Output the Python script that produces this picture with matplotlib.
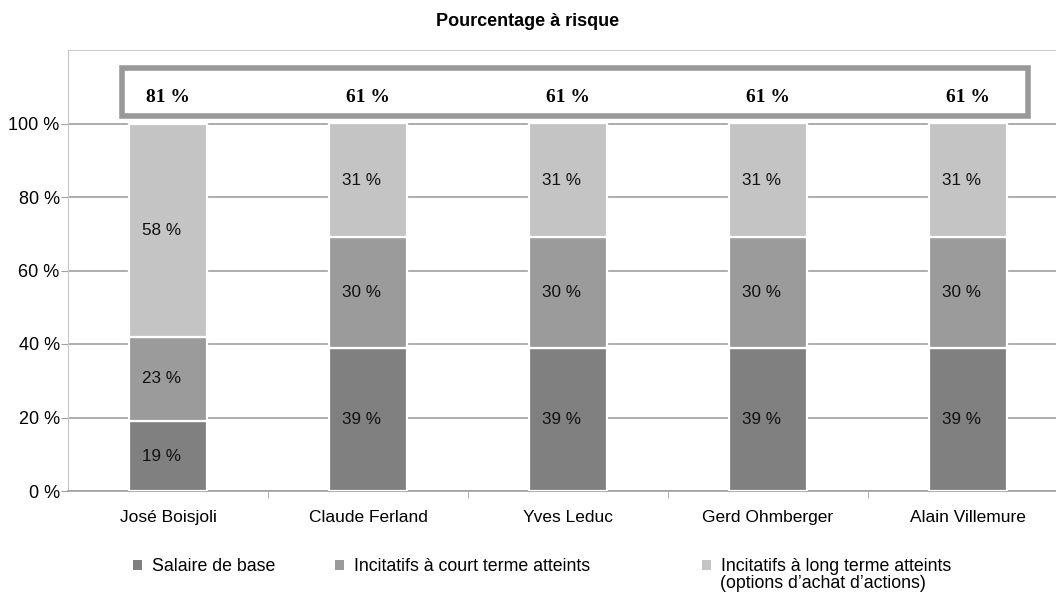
import matplotlib.pyplot as plt
from matplotlib.patches import Rectangle

plt.rcParams['font.family'] = ['Liberation Sans', 'DejaVu Sans']

names = ["José Boisjoli", "Claude Ferland", "Yves Leduc", "Gerd Ohmberger", "Alain Villemure"]
salaire = [19, 39, 39, 39, 39]
court = [23, 30, 30, 30, 30]
long_terme = [58, 31, 31, 31, 31]
risque = [81, 61, 61, 61, 61]
series_labels = ["Salaire de base", "Incitatifs à court terme atteints",
                 "Incitatifs à long terme atteints"]
extra_line = "(options d\u2019achat d\u2019actions)"
colors = ["#808080", "#9b9b9b", "#c4c4c4"]

fig = plt.figure(figsize=(10.56, 5.95), dpi=100)
ax = fig.add_axes([68 / 1056, 1 - 491 / 595, (1056 - 68) / 1056, (491 - 50) / 595])

x = list(range(len(names)))
w = 0.39
bottoms = [0] * len(names)
containers = []
for vals, col, lab in zip([salaire, court, long_terme], colors, series_labels):
    bc = ax.bar(x, vals, w, bottom=bottoms, color=col, edgecolor="white", linewidth=1.6,
                label=lab, zorder=3)
    containers.append(bc)
    for xi, v, b in zip(x, vals, bottoms):
        ax.text(xi - 0.03, b + v / 2, f"{v} %", ha="center", va="center", fontsize=12.3,
                color="#111111", zorder=4)
    bottoms = [b + v for b, v in zip(bottoms, vals)]

ax.set_xlim(-0.5, 4.44)
ax.set_ylim(0, 120)
ax.set_yticks([0, 20, 40, 60, 80, 100])
ax.set_yticklabels([f"{t} %" for t in [0, 20, 40, 60, 80, 100]], fontsize=13)
ax.set_xticks(x)
ax.set_xticklabels(names, fontsize=12.5)
ax.set_xticks([0.5, 1.5, 2.5, 3.5], minor=True)
ax.tick_params(axis="x", which="major", length=0, pad=14)
ax.tick_params(axis="x", which="minor", length=5, color="#a0a0a0", direction="out")
ax.tick_params(axis="y", length=5, color="#a0a0a0", pad=1)
ax.yaxis.grid(True, color="#a0a0a0", linewidth=1.2, zorder=0)
ax.set_axisbelow(True)
ax.spines["right"].set_visible(False)
ax.spines["top"].set_color("#cccccc")
ax.spines["left"].set_color("#c8c8c8")
ax.spines["bottom"].set_color("#a0a0a0")
ax.spines["bottom"].set_linewidth(1.2)

# boxed total at risk
ax.add_patch(Rectangle((-0.23, 102.0), 4.53, 13.2, facecolor="white", edgecolor="#999999",
                       linewidth=4, zorder=2, clip_on=False))
for xi, r in zip(x, risque):
    ax.text(xi, 107.2, f"{r} %", ha="center", va="center", fontsize=14, fontweight="bold",
            family="Liberation Serif", zorder=4)

fig.text(528 / 1056, 1 - 22 / 595, "Pourcentage à risque", ha="center", va="center",
         fontsize=13, fontweight="bold")

# legend, three separate pieces
legend_pos = [(133, 558), (335, 558), (702, 558)]
for bc, (px, py) in zip(containers, legend_pos):
    lg = fig.legend([bc], [bc.get_label()], loc="upper left",
                    bbox_to_anchor=(px / 1056, 1 - py / 595), frameon=False, fontsize=12.8,
                    handlelength=0.5, handleheight=0.5, handletextpad=0.55,
                    borderaxespad=0, borderpad=0)
    lg.legend_handles[0].set_linewidth(0)
fig.text(720 / 1056, 1 - 583 / 595, extra_line, ha="left", va="center", fontsize=12.8)

fig.savefig("out.png", dpi=100)
